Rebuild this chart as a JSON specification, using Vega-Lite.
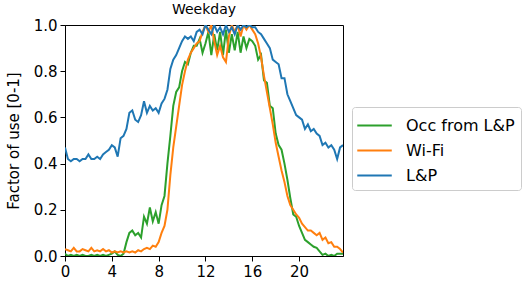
{
  "$schema": "https://vega.github.io/schema/vega-lite/v6.json",
  "autosize": {"type": "none"},
  "width": 278,
  "height": 231,
  "padding": {"left": 65, "top": 25, "right": 183, "bottom": 29},
  "title": {"text": "Weekday", "fontSize": 14, "font": "DejaVu Sans", "fontWeight": "normal", "color": "black", "offset": 1},
  "config": {
    "view": {"stroke": "black", "strokeWidth": 1},
    "font": "DejaVu Sans",
    "axis": {"grid": false, "domainColor": "black", "tickColor": "black", "labelColor": "black", "titleColor": "black", "labelFont": "DejaVu Sans", "titleFont": "DejaVu Sans", "labelFontSize": 15, "titleFontSize": 15, "titleFontWeight": "normal", "tickSize": 5, "labelPadding": 3}
  },
  "data": {"values": [
    {"t":0,"occ":0.01,"wifi":0.03,"lp":0.47},
    {"t":0.25,"occ":0.0,"wifi":0.025,"lp":0.42},
    {"t":0.5,"occ":0.005,"wifi":0.02,"lp":0.41},
    {"t":0.75,"occ":0.0,"wifi":0.035,"lp":0.42},
    {"t":1.0,"occ":0.005,"wifi":0.02,"lp":0.42},
    {"t":1.25,"occ":0.0,"wifi":0.02,"lp":0.41},
    {"t":1.5,"occ":0.005,"wifi":0.03,"lp":0.42},
    {"t":1.75,"occ":0.0,"wifi":0.025,"lp":0.42},
    {"t":2.0,"occ":0.0,"wifi":0.02,"lp":0.44},
    {"t":2.25,"occ":0.005,"wifi":0.035,"lp":0.42},
    {"t":2.5,"occ":0.0,"wifi":0.02,"lp":0.42},
    {"t":2.75,"occ":0.005,"wifi":0.025,"lp":0.43},
    {"t":3.0,"occ":0.0,"wifi":0.02,"lp":0.42},
    {"t":3.25,"occ":0.005,"wifi":0.03,"lp":0.44},
    {"t":3.5,"occ":0.0,"wifi":0.02,"lp":0.45},
    {"t":3.75,"occ":0.005,"wifi":0.025,"lp":0.46},
    {"t":4.0,"occ":0.01,"wifi":0.015,"lp":0.48},
    {"t":4.25,"occ":0.02,"wifi":0.02,"lp":0.47},
    {"t":4.5,"occ":0.005,"wifi":0.015,"lp":0.43},
    {"t":4.75,"occ":0.0,"wifi":0.02,"lp":0.51},
    {"t":5.0,"occ":0.01,"wifi":0.015,"lp":0.52},
    {"t":5.25,"occ":0.06,"wifi":0.02,"lp":0.55},
    {"t":5.5,"occ":0.10,"wifi":0.015,"lp":0.62},
    {"t":5.75,"occ":0.11,"wifi":0.02,"lp":0.63},
    {"t":6.0,"occ":0.09,"wifi":0.015,"lp":0.59},
    {"t":6.25,"occ":0.10,"wifi":0.025,"lp":0.58},
    {"t":6.5,"occ":0.08,"wifi":0.02,"lp":0.61},
    {"t":6.75,"occ":0.17,"wifi":0.03,"lp":0.67},
    {"t":7.0,"occ":0.14,"wifi":0.035,"lp":0.62},
    {"t":7.25,"occ":0.21,"wifi":0.03,"lp":0.65},
    {"t":7.5,"occ":0.15,"wifi":0.045,"lp":0.63},
    {"t":7.75,"occ":0.19,"wifi":0.04,"lp":0.64},
    {"t":8.0,"occ":0.14,"wifi":0.06,"lp":0.62},
    {"t":8.25,"occ":0.22,"wifi":0.10,"lp":0.66},
    {"t":8.5,"occ":0.26,"wifi":0.13,"lp":0.68},
    {"t":8.75,"occ":0.40,"wifi":0.20,"lp":0.72},
    {"t":9.0,"occ":0.52,"wifi":0.35,"lp":0.81},
    {"t":9.25,"occ":0.65,"wifi":0.47,"lp":0.85},
    {"t":9.5,"occ":0.71,"wifi":0.56,"lp":0.87},
    {"t":9.75,"occ":0.73,"wifi":0.65,"lp":0.90},
    {"t":10.0,"occ":0.80,"wifi":0.74,"lp":0.93},
    {"t":10.25,"occ":0.84,"wifi":0.80,"lp":0.95},
    {"t":10.5,"occ":0.83,"wifi":0.85,"lp":0.94},
    {"t":10.75,"occ":0.88,"wifi":0.88,"lp":0.95},
    {"t":11.0,"occ":0.91,"wifi":0.90,"lp":0.93},
    {"t":11.25,"occ":0.91,"wifi":0.92,"lp":0.97},
    {"t":11.5,"occ":0.94,"wifi":0.93,"lp":0.98},
    {"t":11.75,"occ":0.88,"wifi":0.97,"lp":0.96},
    {"t":12.0,"occ":0.92,"wifi":1.0,"lp":1.0},
    {"t":12.25,"occ":0.97,"wifi":0.97,"lp":0.98},
    {"t":12.5,"occ":0.87,"wifi":1.0,"lp":0.96},
    {"t":12.75,"occ":0.96,"wifi":0.93,"lp":1.0},
    {"t":13.0,"occ":0.89,"wifi":0.87,"lp":0.97},
    {"t":13.25,"occ":0.97,"wifi":0.91,"lp":0.99},
    {"t":13.5,"occ":0.87,"wifi":0.86,"lp":0.96},
    {"t":13.75,"occ":0.98,"wifi":0.84,"lp":1.0},
    {"t":14.0,"occ":0.88,"wifi":0.95,"lp":0.97},
    {"t":14.25,"occ":0.96,"wifi":1.0,"lp":0.99},
    {"t":14.5,"occ":0.89,"wifi":0.97,"lp":0.96},
    {"t":14.75,"occ":0.97,"wifi":1.0,"lp":1.0},
    {"t":15.0,"occ":0.88,"wifi":0.95,"lp":0.98},
    {"t":15.25,"occ":0.95,"wifi":1.0,"lp":1.0},
    {"t":15.5,"occ":0.90,"wifi":0.98,"lp":0.99},
    {"t":15.75,"occ":0.94,"wifi":1.0,"lp":1.0},
    {"t":16.0,"occ":0.93,"wifi":0.98,"lp":0.99},
    {"t":16.25,"occ":0.91,"wifi":0.96,"lp":0.99},
    {"t":16.5,"occ":0.85,"wifi":0.92,"lp":0.97},
    {"t":16.75,"occ":0.87,"wifi":0.86,"lp":0.96},
    {"t":17.0,"occ":0.76,"wifi":0.78,"lp":0.94},
    {"t":17.25,"occ":0.75,"wifi":0.71,"lp":0.92},
    {"t":17.5,"occ":0.65,"wifi":0.64,"lp":0.90},
    {"t":17.75,"occ":0.64,"wifi":0.57,"lp":0.85},
    {"t":18.0,"occ":0.53,"wifi":0.49,"lp":0.84},
    {"t":18.25,"occ":0.48,"wifi":0.43,"lp":0.83},
    {"t":18.5,"occ":0.46,"wifi":0.37,"lp":0.77},
    {"t":18.75,"occ":0.40,"wifi":0.32,"lp":0.77},
    {"t":19.0,"occ":0.33,"wifi":0.26,"lp":0.70},
    {"t":19.25,"occ":0.25,"wifi":0.22,"lp":0.67},
    {"t":19.5,"occ":0.18,"wifi":0.20,"lp":0.64},
    {"t":19.75,"occ":0.17,"wifi":0.18,"lp":0.61},
    {"t":20.0,"occ":0.13,"wifi":0.165,"lp":0.60},
    {"t":20.25,"occ":0.10,"wifi":0.14,"lp":0.59},
    {"t":20.5,"occ":0.07,"wifi":0.125,"lp":0.55},
    {"t":20.75,"occ":0.06,"wifi":0.11,"lp":0.57},
    {"t":21.0,"occ":0.05,"wifi":0.11,"lp":0.54},
    {"t":21.25,"occ":0.04,"wifi":0.10,"lp":0.55},
    {"t":21.5,"occ":0.035,"wifi":0.09,"lp":0.53},
    {"t":21.75,"occ":0.02,"wifi":0.10,"lp":0.52},
    {"t":22.0,"occ":0.005,"wifi":0.07,"lp":0.48},
    {"t":22.25,"occ":0.01,"wifi":0.08,"lp":0.49},
    {"t":22.5,"occ":0.0,"wifi":0.055,"lp":0.47},
    {"t":22.75,"occ":0.005,"wifi":0.06,"lp":0.48},
    {"t":23.0,"occ":0.0,"wifi":0.04,"lp":0.46},
    {"t":23.25,"occ":0.01,"wifi":0.04,"lp":0.42},
    {"t":23.5,"occ":0.01,"wifi":0.03,"lp":0.47},
    {"t":23.75,"occ":0.01,"wifi":0.015,"lp":0.48}
  ]},
  "transform": [
    {"fold": ["occ", "wifi", "lp"], "as": ["key", "value"]},
    {"lookup": "key", "from": {"data": {"values": [
      {"key": "occ", "series": "Occ from L&P", "ord": 0},
      {"key": "wifi", "series": "Wi-Fi", "ord": 1},
      {"key": "lp", "series": "L&P", "ord": 2}
    ]}, "key": "key", "fields": ["series", "ord"]}}
  ],
  "mark": {"type": "line", "strokeWidth": 2, "clip": true},
  "encoding": {
    "x": {"field": "t", "type": "quantitative", "title": null,
      "scale": {"domain": [0, 23.75], "nice": false, "zero": false},
      "axis": {"values": [0, 4, 8, 12, 16, 20], "format": "d", "labelFlush": false}},
    "y": {"field": "value", "type": "quantitative", "title": "Factor of use [0-1]",
      "scale": {"domain": [0, 1], "nice": false},
      "axis": {"values": [0, 0.2, 0.4, 0.6, 0.8, 1.0], "format": ".1f", "titlePadding": 12}},
    "color": {"field": "series", "type": "nominal",
      "scale": {"domain": ["Occ from L&P", "Wi-Fi", "L&P"], "range": ["#2ca02c", "#ff7f0e", "#1f77b4"]},
      "legend": {"title": null, "orient": "none", "legendX": 287, "legendY": 82,
        "fillColor": "white", "strokeColor": "#cccccc", "cornerRadius": 3, "padding": 6,
        "symbolType": "M-1.15,0H1.85", "symbolSize": 529, "symbolStrokeWidth": 2,
        "labelFontSize": 16, "labelFont": "DejaVu Sans", "labelColor": "black", "labelOffset": 23,
        "rowPadding": 4}},
    "order": {"field": "ord"}
  }
}
